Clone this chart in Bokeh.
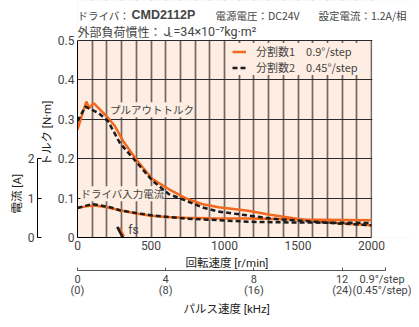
from bokeh.plotting import figure
from bokeh.models import (Range1d, LinearAxis, FixedTicker, Label, Legend, LegendItem,
                          BoxAnnotation, Title)
from bokeh.embed import file_html
from bokeh.resources import INLINE

# ---------------- data ----------------
# pull-out torque, division 1 (0.9 deg/step), N·m
rpm_torque_1 = [0, 30, 60, 80, 110, 200, 250, 310, 400, 510, 620, 735, 845, 960, 1090, 1160, 1310, 1540, 1760, 2000]
torque_1 = [0.274, 0.31, 0.345, 0.329, 0.341, 0.307, 0.285, 0.245, 0.198, 0.148, 0.123, 0.100, 0.085, 0.077, 0.071, 0.068, 0.058, 0.045, 0.037, 0.031]
# pull-out torque, division 2 (0.45 deg/step), N·m
rpm_torque_2 = [0, 53, 143, 208, 288, 399, 510, 622, 734, 845, 957, 1157, 1313, 1536, 1759, 2000]
torque_2 = [0.295, 0.332, 0.316, 0.295, 0.240, 0.192, 0.144, 0.110, 0.094, 0.077, 0.066, 0.056, 0.048, 0.042, 0.036, 0.031]
# driver input current, A
rpm_current_1 = [0, 60, 120, 200, 288, 400, 500, 600, 734, 900, 1157, 1500, 2000]
current_1 = [0.75, 0.79, 0.81, 0.77, 0.69, 0.61, 0.55, 0.52, 0.50, 0.49, 0.48, 0.46, 0.44]
rpm_current_2 = [0, 50, 100, 221, 288, 399, 510, 734, 957, 1157, 1500, 2000]
current_2 = [0.75, 0.80, 0.85, 0.77, 0.69, 0.62, 0.56, 0.48, 0.44, 0.40, 0.38, 0.37]
# starting pulse rate marks (fs)
fs_rpm_2 = [270, 308]
fs_torque_2 = [0.027, 0.0]
fs_rpm_1 = [283, 316]
fs_torque_1 = [0.025, 0.003]

rpm_max = 2000
x_ticks = [0, 500, 1000, 1500, 2000]
x_grid = list(range(100, 2001, 100))
y_ticks = [0, 0.1, 0.2, 0.3, 0.4, 0.5]
current_ticks = [0, 1, 2]
pulse_ticks = [0, 4, 8, 12]
pulse_labels = {0: "0\n(0)", 4: "4\n(8)", 8: "8\n(16)", 12: "12\n(24)"}
step_note = "0.9°/step\n(0.45°/step)"
legend_labels = ["分割数1　0.9°/step", "分割数2　0.45°/step"]

# ---------------- style ----------------
ORANGE = "#F0691F"
DARK = "#1c1c1c"
BG = "#FDEDE2"
VGRID = "#76665F"
JP = "Noto Sans CJK JP"
NUM = "Liberation Sans Narrow, Roboto, Noto Sans CJK JP"

X_END = 2272      # frame extends right of 2000 r/min (blank margin area)
Y_END = 0.6015    # frame extends above 0.5 N·m (header area)
NOTE_KHZ = 13.95  # position of the step-angle note on the pulse axis

p = figure(width=411, height=319, title=None,
           x_range=Range1d(0, X_END), y_range=Range1d(0, Y_END),
           output_backend="svg", toolbar_location=None,
           min_border_left=77, min_border_right=0,
           min_border_top=0, min_border_bottom=82)
p.background_fill_color = BG
p.border_fill_color = "white"
p.outline_line_color = None

p.extra_y_ranges = {"current": Range1d(0, Y_END * 10)}
p.extra_x_ranges = {"pulse": Range1d(0, X_END / 150)}

# grids
p.xgrid.ticker = FixedTicker(ticks=x_grid)
p.xgrid.grid_line_color = VGRID
p.xgrid.grid_line_width = 1.7
p.ygrid.ticker = FixedTicker(ticks=y_ticks[1:])
p.ygrid.grid_line_color = "#2a2a2a"
p.ygrid.grid_line_width = 1

def style_axis(ax, label_size="12px"):
    ax.major_label_text_font = NUM
    ax.major_label_text_font_size = label_size
    ax.minor_tick_out = 0
    ax.minor_tick_in = 0
    ax.axis_line_color = "black"

def side_title(text, place, offset, standoff):
    t = Title(text=text, align="left", offset=offset, standoff=standoff,
              text_font=NUM, text_font_size="11.5px", text_font_style="normal",
              text_color="#222222")
    p.add_layout(t, place)

# ---- left side: torque axis, its title, spacer, current axis, its title
ya = p.yaxis[0]
style_axis(ya)
ya.ticker = FixedTicker(ticks=y_ticks)
ya.bounds = (0, 0.5)
ya.major_label_overrides = {0: "0"}
ya.major_label_standoff = 3
ya.major_tick_out = 0
ya.major_tick_in = 0
side_title("トルク [N·m]", "left", 72, 1)

sp_left = LinearAxis(y_range_name="current", ticker=FixedTicker(ticks=[]),
                     axis_line_color=None, major_tick_out=8, major_tick_in=0,
                     minor_tick_out=0, minor_tick_in=0, major_label_standoff=0,
                     major_tick_line_color=None)
p.add_layout(sp_left, "left")
ca = LinearAxis(y_range_name="current", ticker=FixedTicker(ticks=current_ticks), bounds=(0, 2))
style_axis(ca)
ca.major_label_standoff = 3
ca.major_tick_out = 0
ca.major_tick_in = 4
p.add_layout(ca, "left")
side_title("電流 [A]", "left", 24, 1)

# ---- below: speed axis, its title, spacer, pulse axis, its title
xa = p.xaxis[0]
style_axis(xa)
xa.ticker = FixedTicker(ticks=x_ticks)
xa.bounds = (0, rpm_max)
xa.major_label_standoff = 3
xa.major_tick_out = 0
xa.major_tick_in = 0
side_title("回転速度 [r/min]", "below", 108, 2)

sp_bottom = LinearAxis(x_range_name="pulse", ticker=FixedTicker(ticks=[]),
                       axis_line_color=None, major_tick_out=5, major_tick_in=0,
                       minor_tick_out=0, minor_tick_in=0, major_label_standoff=0,
                       major_tick_line_color=None)
p.add_layout(sp_bottom, "below")
pa = LinearAxis(x_range_name="pulse", ticker=FixedTicker(ticks=pulse_ticks + [NOTE_KHZ]),
                bounds=(0, NOTE_KHZ))
style_axis(pa, label_size="11px")
labels = dict(pulse_labels)
labels[NOTE_KHZ] = step_note
pa.major_label_overrides = labels
pa.major_label_text_line_height = 0.85
pa.major_label_standoff = 2
pa.major_tick_out = 0
pa.major_tick_in = 3
pa.axis_line_color = "#555555"
pa.major_tick_line_color = "#555555"
p.add_layout(pa, "below")
side_title("パルス速度 [kHz]", "below", 106, 1)

# text labels with background (below the curves)
p.add_layout(Label(x=221, y=0.324, text="プルアウトトルク", text_font=JP,
                   text_font_size="10.5px", text_baseline="middle",
                   background_fill_color=BG, level="underlay"))
p.add_layout(Label(x=20, y=0.111, text="ドライバ入力電流", text_font=JP,
                   text_font_size="10.5px", text_baseline="middle",
                   background_fill_color=BG, level="underlay"))

# curves
r1 = p.line(rpm_torque_1, torque_1, line_color=ORANGE, line_width=2.5)
p.line(rpm_current_1, current_1, y_range_name="current", line_color=ORANGE, line_width=2.5)
p.line(fs_rpm_1, fs_torque_1, line_color=ORANGE, line_width=2.5)
r2 = p.line(rpm_torque_2, torque_2, line_color=DARK, line_width=2.5, line_dash="5 3")
p.line(rpm_current_2, current_2, y_range_name="current", line_color=DARK, line_width=2.5, line_dash="5 3")
p.line(fs_rpm_2, fs_torque_2, line_color=DARK, line_width=2.5)

p.add_layout(Label(x=345, y=0.002, text="fs", text_font=NUM, text_font_size="12px",
                   text_baseline="bottom"))

legend = Legend(items=[LegendItem(label=legend_labels[0], renderers=[r1]),
                       LegendItem(label=legend_labels[1], renderers=[r2])],
                location=(155, 162), orientation="vertical")
legend.background_fill_color = BG
legend.background_fill_alpha = 1
legend.border_line_color = None
legend.padding = 3
legend.margin = 0
legend.spacing = 0
legend.glyph_width = 14
legend.glyph_height = 11
legend.label_height = 11
legend.label_standoff = 10
legend.label_text_font = JP
legend.label_text_font_size = "11px"
p.add_layout(legend)

# white margins outside the chart area (header band and right strip)
p.add_layout(BoxAnnotation(bottom=0.5013, fill_color="white", fill_alpha=1,
                           line_color=None, level="overlay"))
p.add_layout(BoxAnnotation(left=rpm_max + 5, fill_color="white", fill_alpha=1,
                           line_color=None, level="overlay"))

# header lines
def head(x, y, text, font=JP, size="10.5px", style="normal"):
    p.add_layout(Label(x=x, y=y, text=text, text_font=font, text_font_size=size,
                       text_font_style=style, text_baseline="middle", level="overlay"))

head(0, 0.5635, "ドライバ：")
head(367, 0.5635, "CMD2112P", font="Liberation Sans", size="12.5px", style="bold")
head(939, 0.5635, "電源電圧：DC24V")
head(1639, 0.5635, "設定電流：1.2A/相")
head(0, 0.5228, "外部負荷慣性：", size="12px")
head(585, 0.5228, "J", font=NUM, size="12.5px")
head(619, 0.515, "L", font=NUM, size="8px")
head(653, 0.5228, "=34×10⁻⁷kg·m²", font=NUM, size="12.5px")

open("out.html", "w").write(file_html(p, INLINE))
